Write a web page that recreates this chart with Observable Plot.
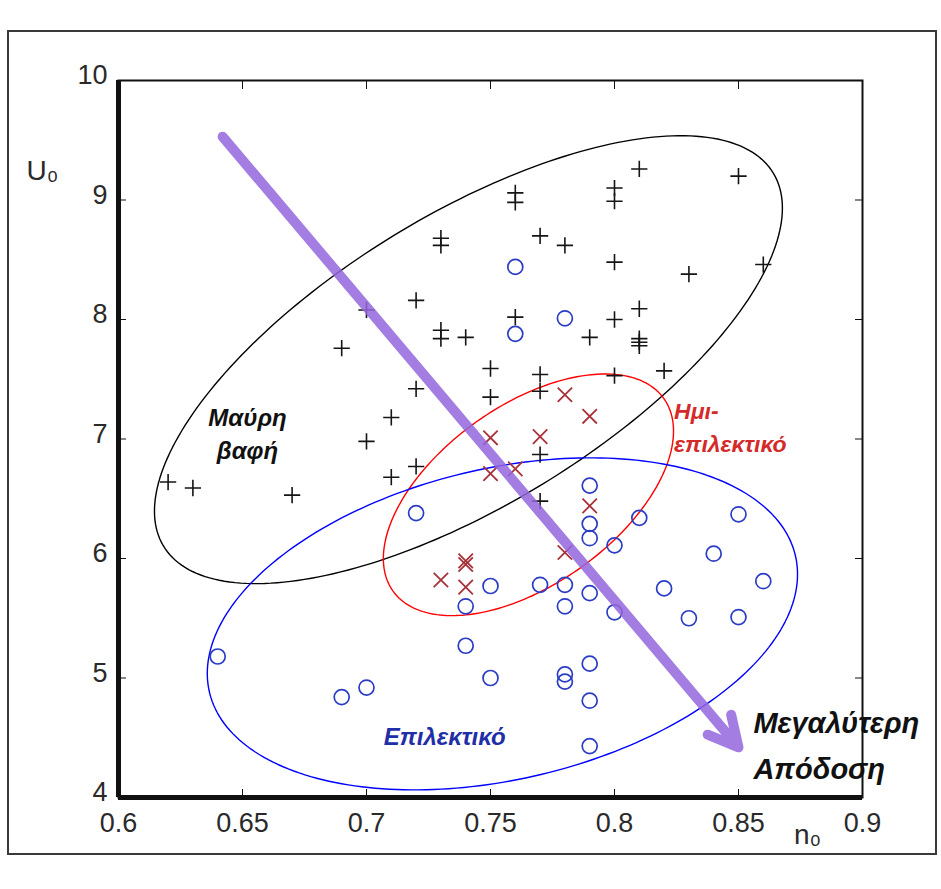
<!DOCTYPE html>
<html>
<head>
<meta charset="utf-8">
<script src="https://cdn.jsdelivr.net/npm/d3@7"></script>
<script src="https://cdn.jsdelivr.net/npm/@observablehq/plot@0.6"></script>
<style>
  html, body { margin: 0; padding: 0; background: #fff; }
  #wrap { position: relative; width: 941px; height: 889px; overflow: hidden; }
  #border { position: absolute; left: 7px; top: 30px; width: 926px; height: 821px;
            border: 2px solid #3a3a3a; pointer-events: none; }
</style>
</head>
<body>
<div id="wrap"><div id="border"></div></div>
<script>
// ---- Data: black "+" (Μαύρη βαφή)
const plusX = [0.62,0.63,0.67,0.69,0.70,0.70,0.71,0.71,0.72,0.72,0.72,0.73,0.73,0.73,0.73,0.74,0.75,0.75,0.76,0.76,0.76,0.77,0.77,0.77,0.77,0.77,0.78,0.79,0.80,0.80,0.80,0.80,0.80,0.81,0.81,0.81,0.81,0.81,0.82,0.83,0.85,0.86];
const plusY = [6.64,6.59,6.53,7.76,8.08,6.98,7.18,6.68,7.42,6.77,8.16,8.68,8.62,7.91,7.84,7.85,7.59,7.35,9.06,8.98,8.02,8.70,7.54,7.40,6.87,6.48,8.62,7.85,9.10,8.99,8.48,8.00,7.53,9.26,8.09,7.84,7.81,7.78,7.57,8.38,9.20,8.46];
// ---- Data: red "x" (Ημι-επιλεκτικό)
const timesX = [0.78,0.79,0.75,0.77,0.75,0.76,0.79,0.78,0.74,0.74,0.73,0.74];
const timesY = [7.37,7.19,7.01,7.02,6.71,6.75,6.44,6.05,5.98,5.95,5.82,5.76];
// ---- Data: blue "o" (Επιλεκτικό)
const circX = [0.76,0.76,0.78,0.72,0.79,0.79,0.79,0.80,0.81,0.85,0.84,0.86,0.82,0.83,0.85,0.75,0.77,0.78,0.79,0.78,0.80,0.79,0.74,0.74,0.64,0.69,0.70,0.75,0.78,0.78,0.79,0.79];
const circY = [8.44,7.88,8.01,6.38,6.61,6.29,6.17,6.11,6.34,6.37,6.04,5.81,5.75,5.50,5.51,5.77,5.78,5.78,5.71,5.60,5.55,5.12,5.60,5.27,5.18,4.84,4.92,5.00,5.03,4.97,4.81,4.43];

// ---- Ellipses (center + conjugate half-diameters, data units)
const ellipseNames = ["black", "red", "blue"];
const ellipseColors = ["#1a1a1a", "#e23c3c", "#1f2ea8"];
const ellipseCx = [0.7411, 0.7653, 0.7548];
const ellipseCy = [7.664, 6.533, 5.453];
const ellipseUx = [0.1266, 0.0585, 0.1190];
const ellipseUy = [1.268, 0.533, 0.415];
const ellipseVy = [-1.380, -0.859, -1.326];

// ---- Arrow "Μεγαλύτερη Απόδοση"
const arrowX = [0.642, 0.850];
const arrowY = [9.53, 4.42];

// ---- Annotation texts
const noteText = ["Μαύρη\nβαφή", "Ημι-\nεπιλεκτικό", "Επιλεκτικό", "Μεγαλύτερη\nΑπόδοση"];
const noteX = [0.652, 0.824, 0.7315, 0.856];
const noteY = [7.06, 7.12, 4.50, 4.47];
const noteColor = ["#111", "#d42a2a", "#1f2fa8", "#111"];

// ---- Ticks
const xTicks = [0.6, 0.65, 0.7, 0.75, 0.8, 0.85, 0.9];
const xTickLabels = ["0.6", "0.65", "0.7", "0.75", "0.8", "0.85", "0.9"];
const yTicks = [4, 5, 6, 7, 8, 9, 10];
const yTickLabels = ["4", "5", "6", "7", "8", "9", "10"];

// build tables
const plusData = plusX.map((x, i) => ({x, y: plusY[i]}));
const timesData = timesX.map((x, i) => ({x, y: timesY[i]}));
const circData = circX.map((x, i) => ({x, y: circY[i]}));
const ellipseData = [];
ellipseNames.forEach((name, k) => {
  for (let j = 0; j <= 240; j++) {
    const t = 2 * Math.PI * j / 240;
    ellipseData.push({
      name,
      x: ellipseCx[k] + ellipseUx[k] * Math.cos(t),
      y: ellipseCy[k] + ellipseUy[k] * Math.cos(t) + ellipseVy[k] * Math.sin(t)
    });
  }
});
const arrowData = [{x1: arrowX[0], y1: arrowY[0], x2: arrowX[1], y2: arrowY[1]}];
const notes = noteText.map((t, i) => ({t, x: noteX[i], y: noteY[i], c: noteColor[i]}));

const font = "'Liberation Sans', Arial, Helvetica, sans-serif";

const chart = Plot.plot({
  width: 941,
  height: 889,
  marginLeft: 118,
  marginRight: 79,
  marginTop: 80,
  marginBottom: 92,
  style: {fontFamily: font, fontSize: "27px", color: "#2a2a2a", background: "transparent", overflow: "visible"},
  x: {domain: [0.6, 0.9], label: null},
  y: {domain: [4, 10], label: null},
  color: {domain: ellipseNames, range: ellipseColors},
  marks: [
    // tick labels
    Plot.axisX({ticks: xTicks, tickFormat: (d, i) => xTickLabels[i], tickSize: 0, tickPadding: 15, fontSize: 27}),
    Plot.axisY({ticks: yTicks, tickFormat: (d, i) => yTickLabels[i], tickSize: 0, tickPadding: 11, dy: -5, fontSize: 27}),
    // inward tick marks on all four sides
    Plot.axisX({ticks: xTicks, anchor: "bottom", tickSize: -8, tickFormat: () => "", stroke: "#111"}),
    Plot.axisX({ticks: xTicks, anchor: "top", tickSize: -8, tickFormat: () => "", stroke: "#111"}),
    Plot.axisY({ticks: yTicks, anchor: "left", tickSize: -8, tickFormat: () => "", stroke: "#111"}),
    Plot.axisY({ticks: yTicks, anchor: "right", tickSize: -8, tickFormat: () => "", stroke: "#111"}),
    Plot.frame({stroke: "#111", strokeWidth: 2}),
    Plot.ruleX([0.6], {stroke: "#111", strokeWidth: 5}),
    Plot.ruleY([4], {stroke: "#111", strokeWidth: 5}),
    Plot.line(ellipseData, {x: "x", y: "y", z: "name", stroke: "name", strokeWidth: 1.4}),
    Plot.dot(plusData, {x: "x", y: "y", symbol: "plus", r: 5.3, stroke: "#151515", strokeWidth: 1.6}),
    Plot.dot(timesData, {x: "x", y: "y", symbol: "times", r: 6.6, stroke: "#a8323a", strokeWidth: 1.8}),
    Plot.dot(circData, {x: "x", y: "y", symbol: "circle", r: 7.5, stroke: "#2b3cc4", strokeWidth: 1.7, fill: "none"}),
    Plot.arrow(arrowData, {x1: "x1", y1: "y1", x2: "x2", y2: "y2", stroke: "#9466de", strokeOpacity: 0.85, strokeWidth: 10, headLength: 5, headAngle: 55}),
    Plot.text(notes.slice(0, 1), {x: "x", y: "y", text: "t", fill: "c", fontSize: 24, fontWeight: "bold", fontStyle: "italic", lineHeight: 1.4, textAnchor: "middle"}),
    Plot.text(notes.slice(1, 2), {x: "x", y: "y", text: "t", fill: "c", fontSize: 23, fontStyle: "italic", fontWeight: 600, lineHeight: 1.45, textAnchor: "start"}),
    Plot.text(notes.slice(2, 3), {x: "x", y: "y", text: "t", fill: "c", fontSize: 24, fontWeight: "bold", fontStyle: "italic", textAnchor: "middle"}),
    Plot.text(notes.slice(3, 4), {x: "x", y: "y", text: "t", fill: "c", fontSize: 29, fontWeight: "bold", fontStyle: "italic", lineHeight: 1.6, textAnchor: "start"}),
    Plot.text(["U₀"], {frameAnchor: "top-left", dx: -92, dy: 80, fontSize: 28, fill: "#2a2a2a", textAnchor: "start"}),
    Plot.text(["n₀"], {frameAnchor: "bottom-right", dx: -55, dy: 46, fontSize: 28, fill: "#2a2a2a", textAnchor: "middle"})
  ]
});
const wrap = document.getElementById("wrap");
wrap.insertBefore(chart, wrap.firstChild);
</script>
</body>
</html>
